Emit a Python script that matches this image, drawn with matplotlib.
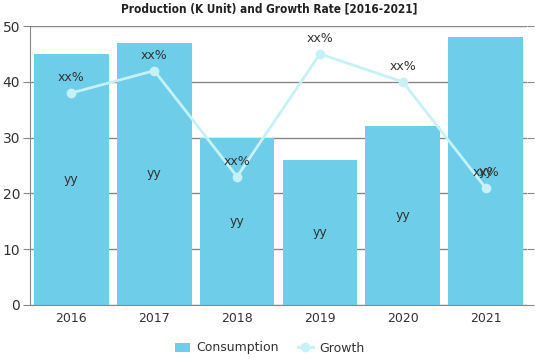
import matplotlib
matplotlib.use("Agg")
import matplotlib.pyplot as plt

anos = ["2016", "2017", "2018", "2019", "2020", "2021"]
consumo = [45, 47, 30, 26, 32, 48]
crescimento = [38, 42, 23, 45, 40, 21]
rotulo_barra = ["yy"] * 6
rotulo_linha = ["xx%"] * 6

COR_BARRA = "#6ecde8"
COR_LINHA = "#c6f1f7"

fig = plt.figure(figsize=(5.39, 3.59), dpi=100)
ax = fig.add_axes([30 / 539, 1 - 305 / 359, 497 / 539, 279 / 359])

x = list(range(len(anos)))
barras = ax.bar(x, consumo, width=0.9, color=COR_BARRA, label="Consumption", zorder=2)
linha, = ax.plot(x, crescimento, color=COR_LINHA, linewidth=2, marker="o", markersize=6,
                 label="Growth", zorder=3)

for i, v in enumerate(consumo):
    ax.text(i, v / 2, rotulo_barra[i], ha="center", va="center", fontsize=9,
            color="#333333", zorder=4)
for i, v in enumerate(crescimento):
    ax.text(i, v + 1.6, rotulo_linha[i], ha="center", va="bottom", fontsize=9,
            color="#333333", zorder=4)

ax.set_xlim(-0.5, 5.5)
ax.set_ylim(0, 50)
ax.set_yticks([0, 10, 20, 30, 40, 50])
ax.set_xticks(x)
ax.set_xticklabels(anos)
ax.grid(True, axis="y", color="#888888", linewidth=1, zorder=0)
ax.tick_params(axis="y", length=5, color="#888888", labelsize=10, labelcolor="#333333", pad=2)
ax.tick_params(axis="x", length=0, labelsize=9, labelcolor="#333333", pad=5)
ax.tick_params(axis="y", right=True)
for s in ["top", "right"]:
    ax.spines[s].set_visible(False)
ax.spines["left"].set_color("#888888")
ax.spines["bottom"].set_color("#888888")

fig.text(0.5, 1 - 9 / 359, "Production (K Unit) and Growth Rate [2016-2021]",
         ha="center", va="center", fontsize=8.5, fontweight="heavy",
         fontstretch="condensed", family=["DejaVu Sans"], color="#222222")

fig.legend([barras, linha], ["Consumption", "Growth"], loc="center",
           bbox_to_anchor=(0.5, 1 - 348 / 359), ncol=2, frameon=False,
           fontsize=9, handlelength=1.2, columnspacing=1.5, handletextpad=0.5,
           labelcolor="#333333")

plt.savefig("out.png", dpi=100)
plt.close()
